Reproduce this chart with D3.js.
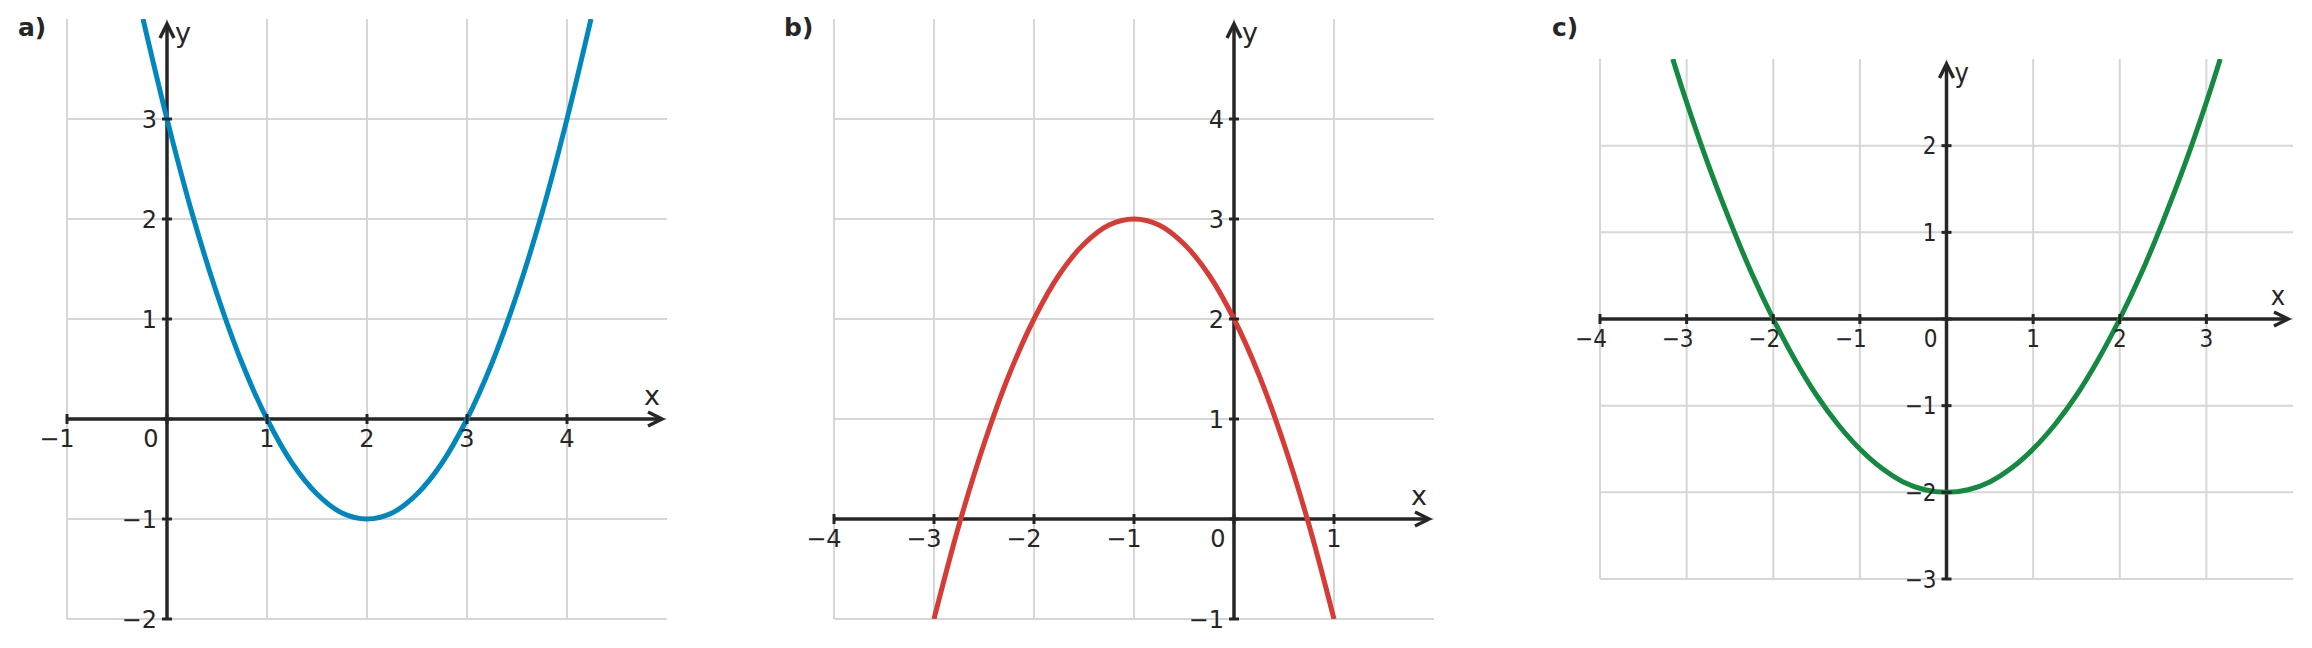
<!DOCTYPE html>
<html><head><meta charset="utf-8">
<script src="https://cdn.jsdelivr.net/npm/d3@7"></script>
<style>html,body{margin:0;padding:0;background:#fff;}svg{display:block;}</style>
</head><body>
<svg id="chart" width="2312" height="648"></svg>
<script>
// ---- data ----
const panelNames = ["a)", "b)", "c)"];
const xDomainA = [-1, 5], yDomainA = [-2, 4];
const xDomainB = [-4, 2], yDomainB = [-1, 5];
const xDomainC = [-4, 4], yDomainC = [-3, 3];
const xTicksA = [-1, 0, 1, 2, 3, 4], yTicksA = [-2, -1, 1, 2, 3];
const xTicksB = [-4, -3, -2, -1, 0, 1], yTicksB = [-1, 1, 2, 3, 4];
const xTicksC = [-4, -3, -2, -1, 0, 1, 2, 3], yTicksC = [-3, -2, -1, 1, 2];
const curveA = [[-0.24,4],[0,3],[0.25,2.06],[0.5,1.25],[0.75,0.56],[1,0],[1.25,-0.44],[1.5,-0.75],[1.75,-0.94],[2,-1],
                [2.25,-0.94],[2.5,-0.75],[2.75,-0.44],[3,0],[3.25,0.56],[3.5,1.25],[3.75,2.06],[4,3],[4.24,4]];
const curveB = [[-3,-1],[-2.75,-0.06],[-2.5,0.75],[-2.25,1.44],[-2,2],[-1.75,2.44],[-1.5,2.75],[-1.25,2.94],[-1,3],
                [-0.75,2.94],[-0.5,2.75],[-0.25,2.44],[0,2],[0.25,1.44],[0.5,0.75],[0.75,-0.06],[1,-1]];
const curveC = [[-3.16,3],[-3,2.5],[-2.75,1.78],[-2.5,1.13],[-2.25,0.53],[-2,0],[-1.75,-0.47],[-1.5,-0.88],[-1.25,-1.22],
                [-1,-1.5],[-0.75,-1.72],[-0.5,-1.88],[-0.25,-1.97],[0,-2],[0.25,-1.97],[0.5,-1.88],[0.75,-1.72],[1,-1.5],
                [1.25,-1.22],[1.5,-0.88],[1.75,-0.47],[2,0],[2.25,0.53],[2.5,1.13],[2.75,1.78],[3,2.5],[3.16,3]];
const curveColors = ["#0087bd", "#d63b35", "#138a3f"];

// ---- layout ----
const svg = d3.select("#chart");
const panels = [
  {name: panelNames[0], xd: xDomainA, yd: yDomainA, xt: xTicksA, yt: yTicksA, pts: curveA, color: curveColors[0],
   xr: [67, 667], yr: [619, 19], lx: 18, font: "'DejaVu Sans', sans-serif", stretch: "normal"},
  {name: panelNames[1], xd: xDomainB, yd: yDomainB, xt: xTicksB, yt: yTicksB, pts: curveB, color: curveColors[1],
   xr: [834, 1434], yr: [619, 19], lx: 784, font: "'DejaVu Sans', sans-serif", stretch: "normal"},
  {name: panelNames[2], xd: xDomainC, yd: yDomainC, xt: xTicksC, yt: yTicksC, pts: curveC, color: curveColors[2],
   xr: [1600, 2293], yr: [579, 59], lx: 1552, font: "'DejaVu Sans Condensed', 'DejaVu Sans', sans-serif", stretch: "condensed"}
];
const axisColor = "#262626", gridColor = "#d6d6d6";

panels.forEach((p, i) => {
  const x = d3.scaleLinear().domain(p.xd).range(p.xr);
  const y = d3.scaleLinear().domain(p.yd).range(p.yr);
  const g = svg.append("g");
  const fs = 24;

  // grid
  const gx = d3.range(p.xd[0], p.xd[1]);
  const gy = d3.range(p.yd[0], p.yd[1]);
  g.selectAll(".gv").data(gx).enter().append("line")
    .attr("x1", d => x(d)).attr("x2", d => x(d)).attr("y1", p.yr[0]).attr("y2", p.yr[1])
    .attr("stroke", gridColor).attr("stroke-width", 2);
  g.selectAll(".gh").data(gy).enter().append("line")
    .attr("y1", d => y(d)).attr("y2", d => y(d)).attr("x1", p.xr[0]).attr("x2", p.xr[1])
    .attr("stroke", gridColor).attr("stroke-width", 2);

  const x0 = x(0), y0 = y(0);
  const tipX = p.xr[1] - 5, tipY = p.yr[1] + 5;

  // axis lines
  g.append("line").attr("x1", p.xr[0]).attr("x2", tipX - 1).attr("y1", y0).attr("y2", y0)
    .attr("stroke", axisColor).attr("stroke-width", 3.5);
  g.append("line").attr("x1", x0).attr("x2", x0).attr("y1", p.yr[0]).attr("y2", tipY + 1)
    .attr("stroke", axisColor).attr("stroke-width", 3.5);

  // curve
  const clipId = "clip" + i;
  svg.append("clipPath").attr("id", clipId).append("rect")
    .attr("x", p.xr[0]).attr("y", p.yr[1]).attr("width", p.xr[1] - p.xr[0]).attr("height", p.yr[0] - p.yr[1]);
  const line = d3.line().x(d => x(d[0])).y(d => y(d[1])).curve(d3.curveCatmullRom.alpha(0.5));
  g.append("path").attr("d", line(p.pts)).attr("fill", "none").attr("stroke", p.color)
    .attr("stroke-width", 5).attr("clip-path", `url(#${clipId})`);

  // ticks
  g.selectAll(".tx").data(p.xt).enter().append("line")
    .attr("x1", d => x(d)).attr("x2", d => x(d)).attr("y1", y0 - 5).attr("y2", y0 + 5)
    .attr("stroke", axisColor).attr("stroke-width", 3);
  g.selectAll(".ty").data(p.yt.concat([0])).enter().append("line")
    .attr("y1", d => y(d)).attr("y2", d => y(d)).attr("x1", x0 - 5).attr("x2", x0 + 5)
    .attr("stroke", axisColor).attr("stroke-width", 3);

  // arrows
  g.append("path").attr("d", `M${tipX - 14},${y0 - 7}L${tipX},${y0}L${tipX - 14},${y0 + 7}`)
    .attr("fill", "none").attr("stroke", axisColor).attr("stroke-width", 3.5);
  g.append("path").attr("d", `M${x0 - 7},${tipY + 14}L${x0},${tipY}L${x0 + 7},${tipY + 14}`)
    .attr("fill", "none").attr("stroke", axisColor).attr("stroke-width", 3.5);

  // measure half digit width
  const tmp = g.append("text").attr("font-family", p.font).attr("font-stretch", p.stretch)
    .attr("font-size", fs).text("0");
  const half = tmp.node().getComputedTextLength() / 2;
  tmp.remove();

  const txt = (sel) => sel.attr("font-family", p.font).attr("font-stretch", p.stretch)
    .attr("font-size", fs).attr("fill", axisColor);

  // x tick labels
  txt(g.selectAll(".lx").data(p.xt).enter().append("text"))
    .attr("x", d => d === 0 ? x0 - 16 + half : x(d) + half)
    .attr("y", y0 + 28).attr("text-anchor", "end")
    .text(d => d < 0 ? "\u2212" + Math.abs(d) : String(d));
  // y tick labels
  txt(g.selectAll(".ly").data(p.yt).enter().append("text"))
    .attr("x", x0 - 10).attr("y", d => y(d)).attr("dy", "0.36em").attr("text-anchor", "end")
    .text(d => d < 0 ? "\u2212" + Math.abs(d) : String(d));

  // axis names
  txt(g.append("text")).attr("font-size", 27).attr("x", tipX - 10).attr("y", y0 - 14)
    .attr("text-anchor", "middle").text("x");
  txt(g.append("text")).attr("font-size", 27).attr("x", x0 + 8).attr("y", tipY + 18)
    .attr("text-anchor", "start").text("y");

  // panel label
  g.append("text").attr("x", p.lx).attr("y", 36).attr("font-family", "'DejaVu Sans', sans-serif")
    .attr("font-weight", "bold").attr("font-size", 25).attr("fill", axisColor).text(p.name);
});
</script>
</body></html>
